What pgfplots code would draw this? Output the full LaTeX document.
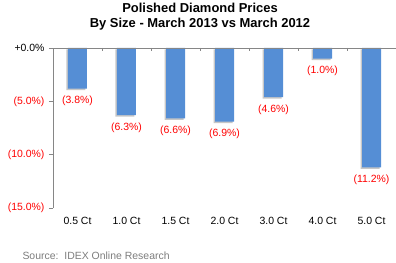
\documentclass[border=0pt]{standalone}
\usepackage{fontspec}
\setmainfont{Liberation Sans}
\usepackage{pgfplots}
\pgfplotsset{compat=1.18}
\usetikzlibrary{shadows}
\definecolor{barblue}{RGB}{85,142,213}
\definecolor{axgray}{RGB}{134,134,134}
\definecolor{srcgray}{RGB}{125,125,125}
\begin{document}
\begin{tikzpicture}
\useasboundingbox (-53bp,-55bp) rectangle (343bp,208bp);
\begin{axis}[
 at={(0,0)}, anchor=south west,
 scale only axis, width=343bp, height=160bp,
 xmin=-0.5, xmax=6.5, ymin=-15, ymax=0,
 axis y line*=left, axis x line*=bottom,
 x axis line style={draw=none},
 xtick={0,1,2,3,4,5,6},
 xticklabels={0.5 Ct,1.0 Ct,1.5 Ct,2.0 Ct,3.0 Ct,4.0 Ct,5.0 Ct},
 xtick style={draw=none},
 xticklabel style={yshift=-2bp},
 ytick={-15,-10,-5,0},
 yticklabels={\textcolor{red}{(15.0\%)},\textcolor{red}{(10.0\%)},\textcolor{red}{(5.0\%)},+0.0\%},
 y axis line style={axgray, line width=0.8bp},
 ytick style={axgray, line width=0.8bp},
 tick align=outside, major tick length=4bp,
 tick label style={font=\fontsize{10.5}{12}\selectfont},
 yticklabel style={xshift=-1bp},
 ybar, bar width=19bp,
 nodes near coords, point meta=explicit symbolic,
 nodes near coords style={font=\fontsize{10.5}{12}\selectfont, text=red, anchor=north, yshift=-4bp},
 clip=false,
]
\addplot[fill=barblue, draw=none, drop shadow={shadow xshift=-1.5bp, shadow yshift=-1.5bp, fill=black!22, opacity=1}]
 coordinates {(0,-3.8) [(3.8\%)] (1,-6.3) [(6.3\%)] (2,-6.6) [(6.6\%)] (3,-6.9) [(6.9\%)] (4,-4.6) [(4.6\%)] (5,-1.0) [(1.0\%)] (6,-11.2) [(11.2\%)]};
\draw[axgray, line width=0.8bp] (axis cs:-0.5,0) -- (axis cs:6.5,0);
\pgfplotsinvokeforeach{0.5,1.5,2.5,3.5,4.5,5.5}{\draw[axgray, line width=0.8bp] (axis cs:#1,0) -- ([yshift=-3bp]axis cs:#1,0);}
\end{axis}
\node[align=center, font=\fontsize{13}{15}\selectfont\bfseries] at (147bp,191.5bp) {Polished Diamond Prices\\By Size - March 2013 vs March 2012};
\node[anchor=west, text=srcgray, font=\fontsize{10.5}{12}\selectfont] at (-34bp,-48bp) {Source:\ \ IDEX Online Research};
\end{tikzpicture}
\end{document}
